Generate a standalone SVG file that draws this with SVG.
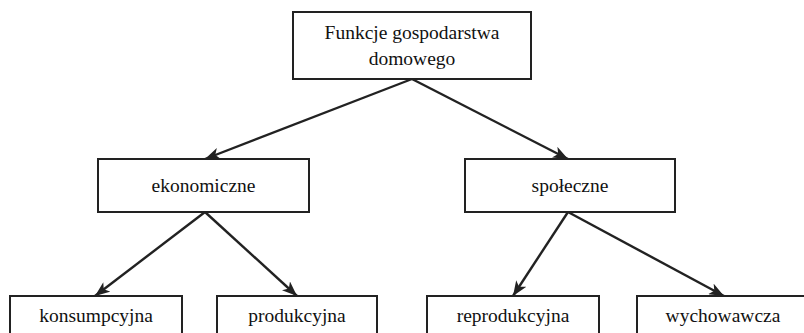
<svg xmlns="http://www.w3.org/2000/svg" width="804" height="333" viewBox="0 0 804 333">
<style>
.box{fill:#fff;stroke:#222;stroke-width:2}
.lbl{font-family:'Liberation Serif','Times New Roman',Times,serif;font-size:19.5px;fill:#111;text-anchor:middle}
.con{stroke:#222;stroke-width:2.4;fill:none;marker-end:url(#ah)}
</style>
<defs>
<marker id="ah" viewBox="0 0 15 12" refX="15" refY="6" markerWidth="15" markerHeight="12" markerUnits="userSpaceOnUse" orient="auto">
<path d="M0,0 L15,6 L0,12 L4,6 Z" fill="#222"/>
</marker>
</defs>
<rect width="804" height="333" fill="#fff"/>
<g id="connectors">
<line class="con" x1="412" y1="79" x2="205" y2="159"/>
<line class="con" x1="412" y1="79" x2="568" y2="159"/>
<line class="con" x1="205" y1="212" x2="95" y2="296"/>
<line class="con" x1="205" y1="212" x2="297" y2="296"/>
<line class="con" x1="568" y1="212" x2="513" y2="296"/>
<line class="con" x1="568" y1="212" x2="724" y2="296"/>
</g>
<g id="n-root">
<rect class="box" x="293" y="12" width="238" height="67"/>
<text class="lbl" x="412" y="39">Funkcje gospodarstwa</text>
<text class="lbl" x="412" y="65">domowego</text>
</g>
<g id="n-ekonomiczne">
<rect class="box" x="98" y="159" width="211" height="53"/>
<text class="lbl" x="203.5" y="192">ekonomiczne</text>
</g>
<g id="n-spoleczne">
<rect class="box" x="465" y="159" width="210" height="53"/>
<text class="lbl" x="570" y="192">społeczne</text>
</g>
<g id="n-konsumpcyjna">
<rect class="box" x="10" y="296" width="172" height="50"/>
<text class="lbl" x="96" y="322">konsumpcyjna</text>
</g>
<g id="n-produkcyjna">
<rect class="box" x="217" y="296" width="160" height="50"/>
<text class="lbl" x="297" y="322">produkcyjna</text>
</g>
<g id="n-reprodukcyjna">
<rect class="box" x="427" y="296" width="172" height="50"/>
<text class="lbl" x="513" y="322">reprodukcyjna</text>
</g>
<g id="n-wychowawcza">
<rect class="box" x="637" y="296" width="172" height="50"/>
<text class="lbl" x="723" y="322">wychowawcza</text>
</g>
</svg>
